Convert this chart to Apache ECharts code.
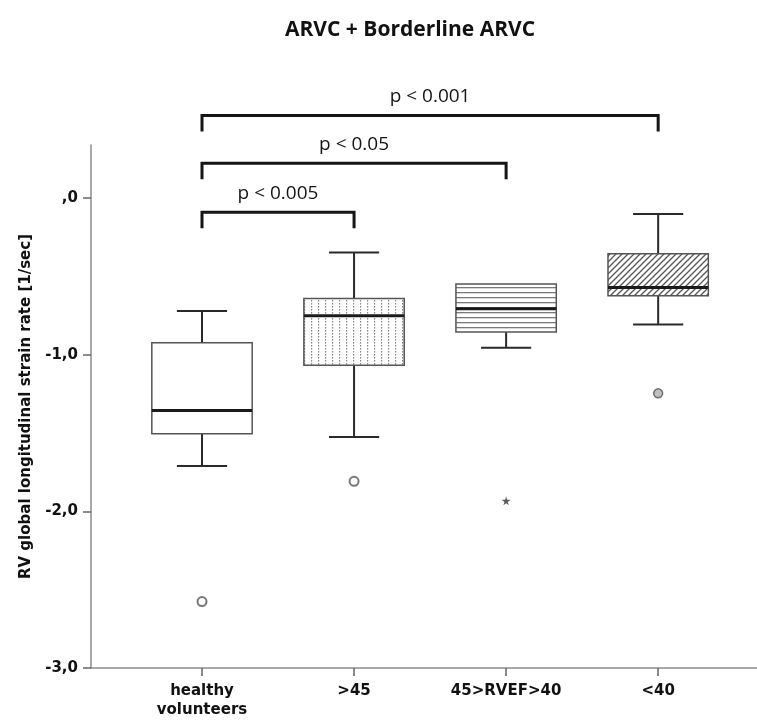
<!DOCTYPE html>
<html>
<head>
<meta charset="utf-8">
<script src="https://cdn.jsdelivr.net/npm/echarts@6/dist/echarts.min.js"></script>
<style>
  html, body { margin: 0; padding: 0; background: #fff; }
  #chart { width: 757px; height: 723px; }
</style>
</head>
<body>
<div id="chart"></div>
<script>
// groups on the x axis
var categories = ['healthy\nvolunteers', '>45', '45>RVEF>40', '<40'];

// box plot values (1/sec)
var whiskerLow  = [-1.71, -1.525, -0.955, -0.806];
var q1          = [-1.504, -1.066, -0.855, -0.623];
var median      = [-1.355, -0.751, -0.706, -0.57];
var q3          = [-0.923, -0.64, -0.547, -0.355];
var whiskerHigh = [-0.72, -0.346, -0.547, -0.10];

// outliers
var outlierGroup = [0, 1, 2, 3];
var outlierValue = [-2.576, -1.808, -1.932, -1.246];

// significance brackets, all from healthy volunteers
var bracketTo = [1, 2, 3];
var bracketY = [-0.089, 0.223, 0.529];
var bracketLabels = ['p < 0.005', 'p < 0.05', 'p < 0.001'];

var yTicks = [-3, -2, -1, 0];

function makePattern(w, h, draw) {
  var c = document.createElement('canvas');
  c.width = w;
  c.height = h;
  var ctx = c.getContext('2d');
  ctx.fillStyle = '#fff';
  ctx.fillRect(0, 0, w, h);
  draw(ctx);
  return { image: c, repeat: 'repeat' };
}

var fills = [
  '#fff',
  makePattern(7, 3, function (ctx) {
    ctx.fillStyle = '#8a8a8a';
    ctx.fillRect(3, 0, 1.2, 1.6);
  }),
  makePattern(4, 5, function (ctx) {
    ctx.fillStyle = '#7a7a7a';
    ctx.fillRect(0, 2, 4, 1.3);
  }),
  makePattern(6, 6, function (ctx) {
    ctx.strokeStyle = '#555';
    ctx.lineWidth = 1.3;
    ctx.beginPath();
    ctx.moveTo(-1, 7); ctx.lineTo(7, -1);
    ctx.moveTo(-1, 1); ctx.lineTo(1, -1);
    ctx.moveTo(5, 7); ctx.lineTo(7, 5);
    ctx.stroke();
  })
];

var boxData = categories.map(function (c, i) {
  return [i, whiskerLow[i], q1[i], median[i], q3[i], whiskerHigh[i]];
});

var outlierData = outlierGroup.map(function (g, i) {
  var item = { value: [g, outlierValue[i]] };
  if (i === 2) {
    item.symbol = 'path://M50,0 L61,35 L98,35 L68,57 L79,91 L50,70 L21,91 L32,57 L2,35 L39,35 Z';
    item.symbolSize = 9;
    item.itemStyle = { color: '#333', borderWidth: 0 };
  } else if (i === 3) {
    item.symbol = 'circle';
    item.itemStyle = { color: '#b0b0b0', borderColor: '#555', borderWidth: 1.5 };
  }
  return item;
});

var bracketData = bracketTo.map(function (t, i) {
  return [0, t, bracketY[i]];
});

function renderBox(params, api) {
  var i = api.value(0);
  var x = api.coord([i, 0])[0];
  var half = api.size([1, 0])[0] * 0.33;
  var yLow = api.coord([i, api.value(1)])[1];
  var yQ1 = api.coord([i, api.value(2)])[1];
  var yMed = api.coord([i, api.value(3)])[1];
  var yQ3 = api.coord([i, api.value(4)])[1];
  var yHigh = api.coord([i, api.value(5)])[1];
  var line = { stroke: '#2a2a2a', lineWidth: 2 };
  var children = [];
  if (yHigh < yQ3 - 0.5) {
    children.push({ type: 'line', shape: { x1: x, y1: yQ3, x2: x, y2: yHigh }, style: line });
    children.push({ type: 'line', shape: { x1: x - half / 2, y1: yHigh, x2: x + half / 2, y2: yHigh }, style: line });
  }
  if (yLow > yQ1 + 0.5) {
    children.push({ type: 'line', shape: { x1: x, y1: yQ1, x2: x, y2: yLow }, style: line });
    children.push({ type: 'line', shape: { x1: x - half / 2, y1: yLow, x2: x + half / 2, y2: yLow }, style: line });
  }
  children.push({
    type: 'rect',
    shape: { x: x - half, y: yQ3, width: half * 2, height: yQ1 - yQ3 },
    style: { fill: fills[params.dataIndex], stroke: '#555', lineWidth: 1.5 }
  });
  children.push({
    type: 'line',
    shape: { x1: x - half, y1: yMed, x2: x + half, y2: yMed },
    style: { stroke: '#1a1a1a', lineWidth: 3 }
  });
  return { type: 'group', children: children };
}

function renderBracket(params, api) {
  var a = api.coord([api.value(0), api.value(2)]);
  var b = api.coord([api.value(1), api.value(2)]);
  var drop = 16;
  var style = { stroke: '#151515', lineWidth: 3, fill: null };
  return {
    type: 'group',
    children: [
      {
        type: 'polyline',
        shape: { points: [[a[0], a[1] + drop], [a[0], a[1]], [b[0], b[1]], [b[0], b[1] + drop]] },
        style: style
      },
      {
        type: 'text',
        x: (a[0] + b[0]) / 2,
        y: a[1] - 9,
        style: {
          text: bracketLabels[params.dataIndex],
          fill: '#151515',
          font: '19px "Open Sans"',
          align: 'center',
          verticalAlign: 'bottom'
        }
      }
    ]
  };
}

var chart = echarts.init(document.getElementById('chart'));

var option = {
  animation: false,
  backgroundColor: '#fff',
  title: {
    text: 'ARVC + Borderline ARVC',
    left: 280,
    top: 15,
    textStyle: { fontFamily: 'Open Sans', fontSize: 21, fontWeight: 'bold', color: '#111' }
  },
  grid: { left: 91, right: 0, top: 145, bottom: 55 },
  xAxis: {
    type: 'value',
    min: -0.73,
    max: 3.65,
    splitLine: { show: false },
    axisLine: { onZero: false, lineStyle: { color: '#8c8c8c', width: 1.5 } },
    axisTick: { customValues: [0, 1, 2, 3], length: 8, lineStyle: { color: '#666', width: 1.5 } },
    axisLabel: {
      customValues: [0, 1, 2, 3],
      margin: 14,
      formatter: function (v) { return categories[Math.round(v)]; },
      fontFamily: 'DejaVu Sans',
      fontWeight: 'bold',
      fontSize: 15,
      lineHeight: 19,
      color: '#111'
    }
  },
  yAxis: {
    type: 'value',
    min: -3,
    max: 0.34,
    interval: 1,
    name: 'RV global longitudinal strain rate [1/sec]',
    nameLocation: 'middle',
    nameRotate: 90,
    nameGap: 57,
    nameTextStyle: { fontFamily: 'DejaVu Sans', fontWeight: 'bold', fontSize: 15, color: '#111' },
    splitLine: { show: false },
    axisLine: { show: true, onZero: false, lineStyle: { color: '#8c8c8c', width: 1.5 } },
    axisTick: { show: true, customValues: yTicks, length: 8, lineStyle: { color: '#666', width: 1.5 } },
    axisLabel: {
      customValues: yTicks,
      margin: 13,
      formatter: function (v) { return v === 0 ? ',0' : v.toFixed(1).replace('.', ','); },
      fontFamily: 'DejaVu Sans',
      fontWeight: 'bold',
      fontSize: 15,
      color: '#111'
    }
  },
  series: [
    {
      type: 'custom',
      name: 'boxes',
      data: boxData,
      encode: { x: 0, y: [1, 2, 3, 4, 5] },
      renderItem: renderBox,
      clip: false
    },
    {
      type: 'scatter',
      name: 'outliers',
      data: outlierData,
      symbol: 'emptyCircle',
      symbolSize: 9,
      itemStyle: { color: '#555', borderColor: '#555', borderWidth: 1.5 }
    },
    {
      type: 'custom',
      name: 'brackets',
      data: bracketData,
      encode: { x: [0, 1], y: 2 },
      renderItem: renderBracket,
      clip: false
    }
  ]
};

chart.setOption(option);
</script>
</body>
</html>
